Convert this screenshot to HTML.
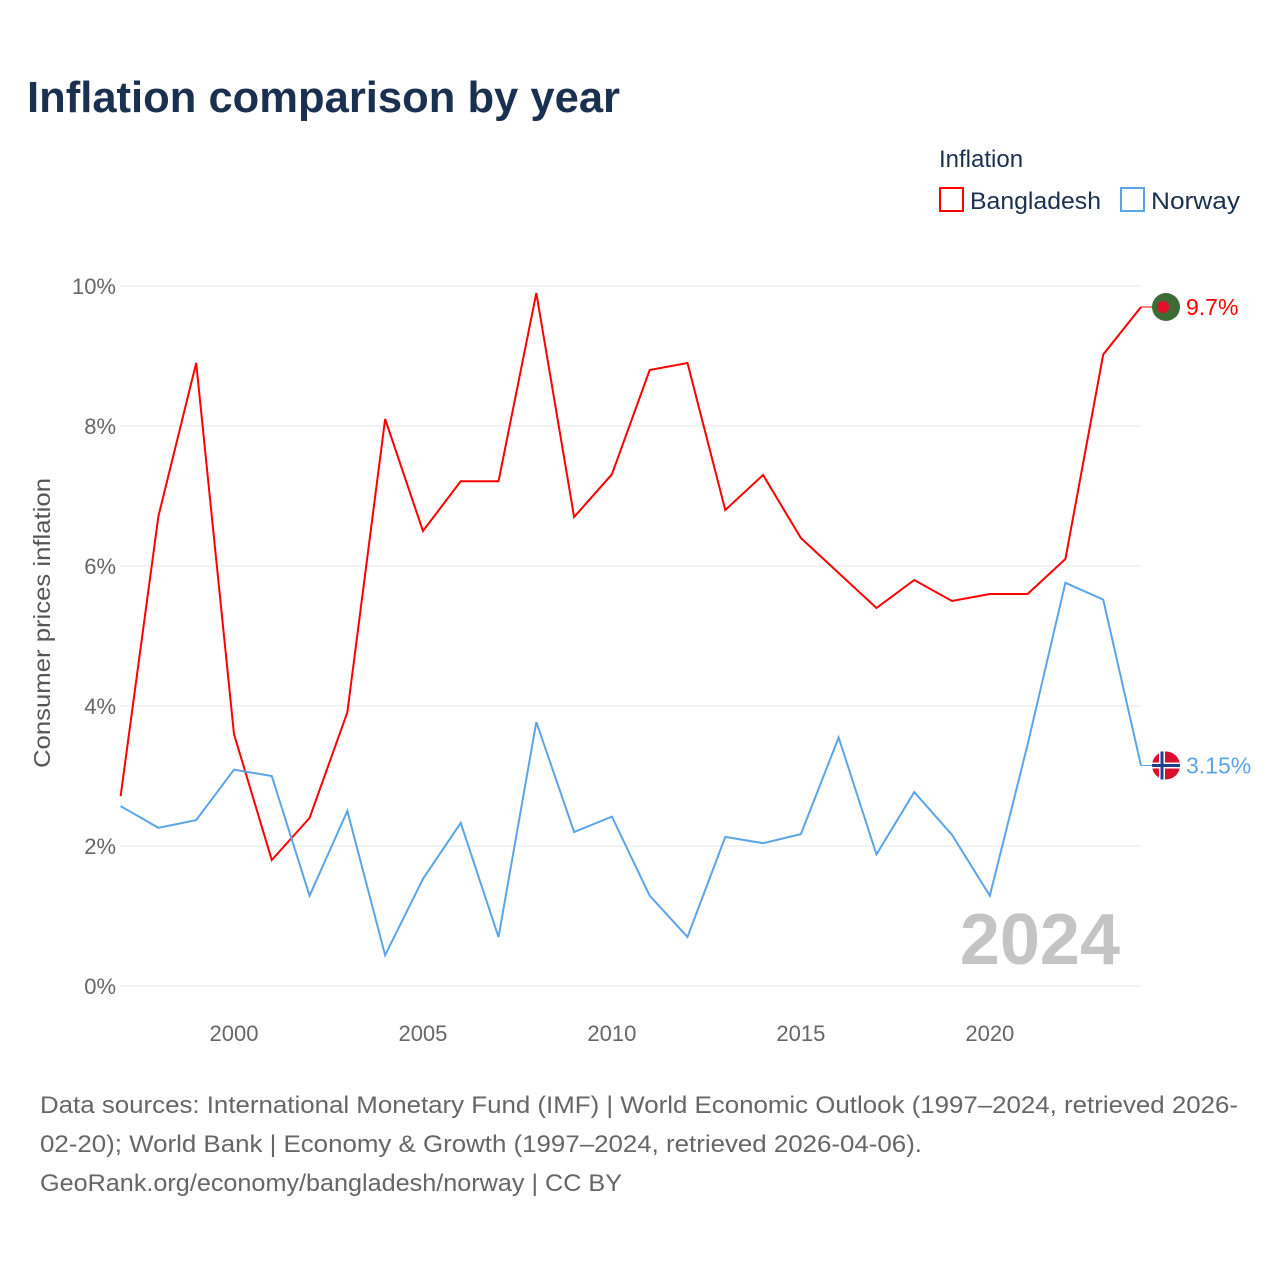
<!DOCTYPE html>
<html><head><meta charset="utf-8"><style>
body{margin:0;background:#fff;font-family:"Liberation Sans",sans-serif;}
</style></head><body>
<svg id="chart" width="1280" height="1280" xmlns="http://www.w3.org/2000/svg" style="font-family:'Liberation Sans',sans-serif">
<rect width="1280" height="1280" fill="#fff"/>
<text x="27" y="112" font-size="44" font-weight="bold" fill="#1a3050" textLength="593" lengthAdjust="spacingAndGlyphs">Inflation comparison by year</text>
<text x="939" y="167" font-size="24" fill="#1a3050">Inflation</text>
<g><rect x="940" y="188" width="23" height="23" fill="none" stroke="#f00" stroke-width="2"/><text x="970" y="209" font-size="24" fill="#1a3050" textLength="131" lengthAdjust="spacingAndGlyphs">Bangladesh</text></g>
<g><rect x="1121" y="188" width="23" height="23" fill="none" stroke="#5aa5e8" stroke-width="2"/><text x="1151" y="209" font-size="24" fill="#1a3050" textLength="89" lengthAdjust="spacingAndGlyphs">Norway</text></g>
<text transform="translate(50,623) rotate(-90)" text-anchor="middle" font-size="23" fill="#555" textLength="290" lengthAdjust="spacingAndGlyphs">Consumer prices inflation</text>
<g id="grid"></g><g id="series"></g>
<text x="1120" y="964" text-anchor="end" font-size="72" font-weight="bold" fill="#c4c4c4">2024</text>
<text x="40" y="1113" font-size="24" fill="#666" textLength="1198" lengthAdjust="spacingAndGlyphs">Data sources: International Monetary Fund (IMF) | World Economic Outlook (1997–2024, retrieved 2026-</text>
<text x="40" y="1152" font-size="24" fill="#666" textLength="882" lengthAdjust="spacingAndGlyphs">02-20); World Bank | Economy &amp; Growth (1997–2024, retrieved 2026-04-06).</text>
<text x="40" y="1191" font-size="24" fill="#666" textLength="582" lengthAdjust="spacingAndGlyphs">GeoRank.org/economy/bangladesh/norway | CC BY</text>
</svg>
<script>
const years=[1997,1998,1999,2000,2001,2002,2003,2004,2005,2006,2007,2008,2009,2010,2011,2012,2013,2014,2015,2016,2017,2018,2019,2020,2021,2022,2023,2024];
const bangladesh=[2.71,6.71,8.9,3.6,1.8,2.4,3.91,8.1,6.5,7.21,7.21,9.9,6.7,7.31,8.8,8.9,6.8,7.3,6.4,5.9,5.4,5.8,5.5,5.6,5.6,6.1,9.02,9.7];
const norway=[2.57,2.26,2.37,3.09,3.0,1.29,2.5,0.44,1.53,2.33,0.7,3.77,2.2,2.42,1.29,0.7,2.13,2.04,2.17,3.55,1.88,2.77,2.16,1.29,3.45,5.76,5.52,3.15];
const yTicks=[0,2,4,6,8,10];
const xTicks=[2000,2005,2010,2015,2020];
const NS="http://www.w3.org/2000/svg";
const x=v=>120.6+(v-1997)*(1141-120.6)/27;
const y=v=>986-v*70;
const grid=document.getElementById('grid'),ser=document.getElementById('series');
function mk(tag,attrs,parent){const e=document.createElementNS(NS,tag);for(const k in attrs)e.setAttribute(k,attrs[k]);parent.appendChild(e);return e;}
yTicks.forEach(t=>{
 const l=mk('line',{x1:120,x2:1141,y1:y(t),y2:y(t),stroke:'#e6e6e6','stroke-width':1},grid);
 
 
 const tx=mk('text',{x:116,y:y(t)+8,'text-anchor':'end','font-size':22,fill:'#666'},grid);tx.textContent=t+'%';
 
 
});
xTicks.forEach(t=>{
 const tx=mk('text',{x:x(t),y:1041,'text-anchor':'middle','font-size':22,fill:'#666'},grid);tx.textContent=t;
 
 
});
function line(vals,color,name,label){
 const p=mk('polyline',{points:vals.map((v,i)=>x(years[i])+','+y(v)).join(' '),fill:'none',stroke:color,'stroke-width':2},ser);
 
 
 const last=vals[vals.length-1],ly=y(last);
 mk('line',{x1:1141,x2:1152,y1:ly,y2:ly,stroke:color,'stroke-width':1},ser);
 const m=mk('g',{},ser);
 
 
 if(name==='bangladesh'){mk('circle',{cx:1166,cy:ly,r:14,fill:'#3d6b35'},m);mk('circle',{cx:1163,cy:ly,r:6,fill:'#e0102a'},m);}
 else{mk('circle',{cx:1166,cy:ly,r:14,fill:'#d8102e'},m);mk('rect',{x:1152,y:ly-3,width:28,height:6,fill:'#fff'},m);mk('rect',{x:1159,y:ly-14,width:6,height:28,fill:'#fff'},m);mk('rect',{x:1152,y:ly-1.5,width:28,height:3,fill:'#1f3f8f'},m);mk('rect',{x:1160.5,y:ly-14,width:3,height:28,fill:'#1f3f8f'},m);}
 const t=mk('text',{x:1186,y:ly+8,'font-size':23,fill:color},ser);t.textContent=label;
 
 
}
line(bangladesh,'#f00','bangladesh',bangladesh[bangladesh.length-1]+'%');
line(norway,'#5aa5e8','norway',norway[norway.length-1]+'%');
</script>
</body></html>
